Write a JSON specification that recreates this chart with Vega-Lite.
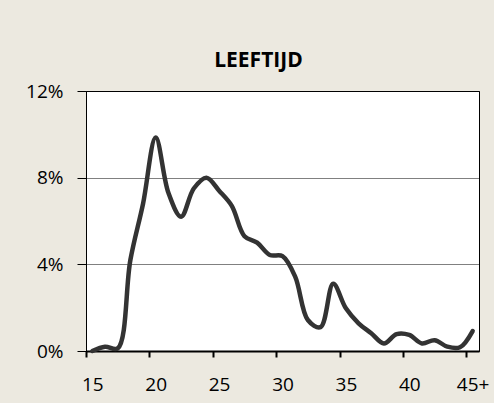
{
  "$schema": "https://vega.github.io/schema/vega-lite/v6.json",
  "autosize": {"type": "none"},
  "width": 393,
  "height": 260,
  "padding": {"left": 86, "top": 91, "right": 15, "bottom": 52},
  "background": "#ECE9E0",
  "title": {
    "text": "LEEFTIJD",
    "font": "Open Sans",
    "fontSize": 21,
    "fontWeight": "bold",
    "color": "#000000",
    "anchor": "middle",
    "frame": "group",
    "dx": -24,
    "offset": 11
  },
  "config": {
    "view": {"fill": "#FFFFFF", "stroke": "#000000", "strokeWidth": 1},
    "axis": {"labelFont": "Open Sans", "labelColor": "#000000"}
  },
  "data": {
    "values": [
      {"age": "15", "pct": 0.0},
      {"age": "16", "pct": 0.2},
      {"age": "17", "pct": 0.12},
      {"age": "18", "pct": 4.2},
      {"age": "19", "pct": 6.8},
      {"age": "20", "pct": 9.85},
      {"age": "21", "pct": 7.3},
      {"age": "22", "pct": 6.2},
      {"age": "23", "pct": 7.5},
      {"age": "24", "pct": 8.0},
      {"age": "25", "pct": 7.4},
      {"age": "26", "pct": 6.7},
      {"age": "27", "pct": 5.3},
      {"age": "28", "pct": 5.0},
      {"age": "29", "pct": 4.43},
      {"age": "30", "pct": 4.38},
      {"age": "31", "pct": 3.43},
      {"age": "32", "pct": 1.43},
      {"age": "33", "pct": 1.1},
      {"age": "34", "pct": 3.1},
      {"age": "35", "pct": 1.97},
      {"age": "36", "pct": 1.28},
      {"age": "37", "pct": 0.82},
      {"age": "38", "pct": 0.35},
      {"age": "39", "pct": 0.78},
      {"age": "40", "pct": 0.74},
      {"age": "41", "pct": 0.35},
      {"age": "42", "pct": 0.5},
      {"age": "43", "pct": 0.2},
      {"age": "44", "pct": 0.17},
      {"age": "45+", "pct": 0.92}
    ]
  },
  "mark": {
    "type": "line",
    "color": "#333333",
    "strokeWidth": 4.5,
    "strokeCap": "round",
    "strokeJoin": "round",
    "interpolate": "catmull-rom"
  },
  "encoding": {
    "x": {
      "field": "age",
      "type": "ordinal",
      "sort": null,
      "scale": {"type": "band", "paddingInner": 0, "paddingOuter": 0},
      "axis": {
        "title": null,
        "values": ["15", "20", "25", "30", "35", "40", "45+"],
        "tickOffset": -6.34,
        "labelOffset": 6.34,
        "labelAngle": 0,
        "labelFontSize": 19,
        "labelPadding": 18,
        "ticks": true,
        "tickSize": 6,
        "tickWidth": 2,
        "tickColor": "#000000",
        "domainColor": "#000000",
        "domainWidth": 2,
        "grid": false
      }
    },
    "y": {
      "field": "pct",
      "type": "quantitative",
      "scale": {"domain": [0, 12], "nice": false},
      "axis": {
        "title": null,
        "values": [0, 4, 8, 12],
        "labelExpr": "datum.value + '%'",
        "labelFontSize": 19,
        "labelPadding": 14,
        "tickSize": 9,
        "tickWidth": 1,
        "tickColor": "#000000",
        "domainColor": "#000000",
        "domainWidth": 1,
        "grid": true,
        "gridColor": "#000000",
        "gridWidth": 1,
        "gridDash": [1, 1]
      }
    }
  }
}
